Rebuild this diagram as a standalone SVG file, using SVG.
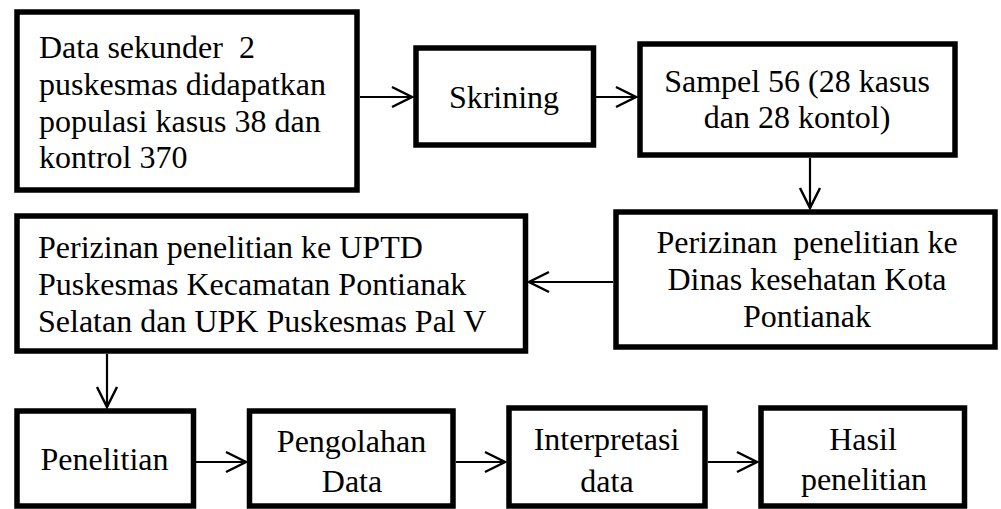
<svg xmlns="http://www.w3.org/2000/svg" width="1001" height="509" viewBox="0 0 1001 509">
<style>
.box{fill:#fff;stroke:#000;stroke-width:5.5}
.t{font-family:"Liberation Serif","Times New Roman",serif;font-size:32px;fill:#000;white-space:pre}
.c{text-anchor:middle}
.conn{stroke:#000;stroke-width:2.2;fill:none}
</style>
<defs>
<marker id="ah" markerUnits="userSpaceOnUse" viewBox="-24 -14 28 28" refX="0" refY="0" markerWidth="28" markerHeight="28" orient="auto" overflow="visible">
<path d="M-20,-10 L0,0 L-20,10" fill="none" stroke="#000" stroke-width="2.5"/>
</marker>
</defs>
<rect width="1001" height="509" fill="#fff"/>
<g id="connectors">
<line class="conn" x1="360" y1="97" x2="412" y2="97" marker-end="url(#ah)"/>
<line class="conn" x1="596" y1="97" x2="636" y2="97" marker-end="url(#ah)"/>
<line class="conn" x1="810" y1="158" x2="810" y2="208" marker-end="url(#ah)"/>
<line class="conn" x1="613" y1="282" x2="529" y2="282" marker-end="url(#ah)"/>
<line class="conn" x1="107" y1="354" x2="107" y2="407" marker-end="url(#ah)"/>
<line class="conn" x1="196" y1="462" x2="246" y2="462" marker-end="url(#ah)"/>
<line class="conn" x1="456" y1="462" x2="505" y2="462" marker-end="url(#ah)"/>
<line class="conn" x1="708" y1="462" x2="757" y2="462" marker-end="url(#ah)"/>
</g>
<g id="n1">
<rect class="box" x="17" y="12" width="340" height="178"/>
<text class="t" x="39" y="58" xml:space="preserve">Data sekunder  2</text>
<text class="t" x="39" y="95">puskesmas didapatkan</text>
<text class="t" x="39" y="132">populasi kasus 38 dan</text>
<text class="t" x="39" y="168">kontrol 370</text>
</g>
<g id="n2">
<rect class="box" x="416" y="48" width="177.5" height="97"/>
<text class="t c" x="504" y="108">Skrining</text>
</g>
<g id="n3">
<rect class="box" x="640" y="44" width="315" height="111"/>
<text class="t c" x="797" y="92">Sampel 56 (28 kasus</text>
<text class="t c" x="797" y="128">dan 28 kontol)</text>
</g>
<g id="n4">
<rect class="box" x="616" y="212" width="379" height="135"/>
<text class="t c" x="807" y="253" xml:space="preserve">Perizinan  penelitian ke</text>
<text class="t c" x="807" y="290">Dinas kesehatan Kota</text>
<text class="t c" x="807" y="327">Pontianak</text>
</g>
<g id="n5">
<rect class="box" x="17" y="216" width="508.5" height="135"/>
<text class="t" x="38" y="258">Perizinan penelitian ke UPTD</text>
<text class="t" x="38" y="295">Puskesmas Kecamatan Pontianak</text>
<text class="t" x="38" y="332">Selatan dan UPK Puskesmas Pal V</text>
</g>
<g id="n6">
<rect class="box" x="17" y="411" width="176.5" height="95"/>
<text class="t c" x="104.5" y="470">Penelitian</text>
</g>
<g id="n7">
<rect class="box" x="249.5" y="411" width="203.5" height="95"/>
<text class="t c" x="351.5" y="452">Pengolahan</text>
<text class="t c" x="352" y="492">Data</text>
</g>
<g id="n8">
<rect class="box" x="509" y="408" width="196" height="98"/>
<text class="t c" x="606.5" y="450">Interpretasi</text>
<text class="t c" x="607" y="492">data</text>
</g>
<g id="n9">
<rect class="box" x="761" y="408" width="203.5" height="98"/>
<text class="t c" x="863" y="450">Hasil</text>
<text class="t c" x="864" y="490">penelitian</text>
</g>
</svg>
